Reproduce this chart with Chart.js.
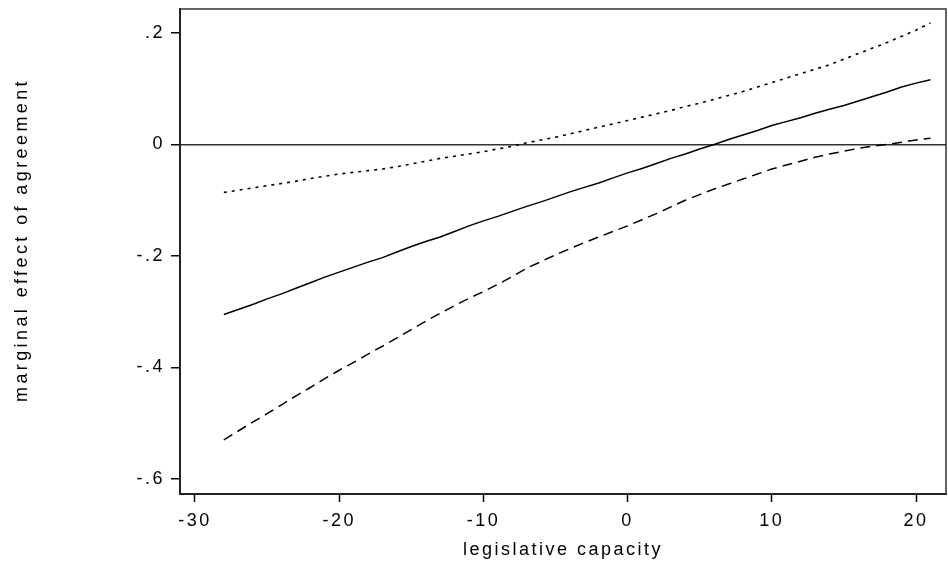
<!DOCTYPE html>
<html>
<head>
<meta charset="utf-8">
<script src="https://cdn.jsdelivr.net/npm/chart.js@4/dist/chart.umd.min.js"></script>
<style>
  body { margin: 0; background: #fff; }
  #wrap { width: 948px; height: 564px; }
</style>
</head>
<body>
<div id="wrap"><canvas id="chart" width="948" height="564"></canvas></div>
<script>
// legislative capacity (x)
const capacity = [-28, -27, -26, -25, -24, -23, -22, -21, -20, -19, -18, -17, -16, -15, -14, -13, -12, -11, -10, -9,
    -8, -7, -6, -5, -4, -3, -2, -1, 0, 1, 2, 3, 4, 5, 6, 7, 8, 9, 10, 11,
    12, 13, 14, 15, 16, 17, 18, 19, 20, 21];

// marginal effect of agreement
const effect = [-0.305, -0.296, -0.287, -0.277, -0.268, -0.258, -0.248, -0.238, -0.229, -0.220,
    -0.211, -0.203, -0.193, -0.183, -0.174, -0.166, -0.156, -0.146, -0.137, -0.129,
    -0.120, -0.111, -0.103, -0.094, -0.085, -0.077, -0.069, -0.060, -0.051, -0.043,
    -0.034, -0.025, -0.017, -0.008, 0.000, 0.009, 0.017, 0.025, 0.034, 0.041,
    0.048, 0.056, 0.063, 0.070, 0.078, 0.086, 0.094, 0.103, 0.110, 0.116];

// upper bound (dotted)
const upper = [-0.086, -0.082, -0.078, -0.074, -0.070, -0.066, -0.061, -0.057, -0.053, -0.050,
    -0.047, -0.044, -0.040, -0.035, -0.030, -0.025, -0.021, -0.017, -0.013, -0.008,
    -0.003, 0.003, 0.008, 0.013, 0.019, 0.025, 0.031, 0.037, 0.043, 0.049,
    0.055, 0.061, 0.068, 0.074, 0.081, 0.088, 0.095, 0.103, 0.111, 0.119,
    0.127, 0.135, 0.143, 0.153, 0.163, 0.173, 0.183, 0.194, 0.205, 0.218];

// lower bound (dashed)
const lower = [-0.530, -0.514, -0.498, -0.483, -0.467, -0.451, -0.436, -0.420, -0.405, -0.391,
    -0.376, -0.362, -0.347, -0.332, -0.317, -0.303, -0.289, -0.276, -0.264, -0.251,
    -0.237, -0.222, -0.210, -0.198, -0.187, -0.176, -0.166, -0.156, -0.146, -0.135,
    -0.124, -0.112, -0.100, -0.090, -0.080, -0.071, -0.062, -0.053, -0.044, -0.037,
    -0.030, -0.023, -0.017, -0.012, -0.007, -0.003, 0.000, 0.004, 0.008, 0.011];

const xTicks = [-30, -20, -10, 0, 10, 20];
const yTicks = [-0.6, -0.4, -0.2, 0, 0.2];
const yTickLabels = ['-.6', '-.4', '-.2', '0', '.2'];
const yTitle = 'marginal effect of agreement';

const toPoints = (ys) => capacity.map((x, i) => ({ x: x, y: ys[i] }));

const fontFamily = '"Liberation Sans", Arial, sans-serif';
const font = { family: fontFamily, size: 18 };

// разреженные буквы как в Stata, рамка и подпись оси Y
const stataLook = {
    id: 'stataLook',
    beforeDraw(chart) {
        chart.ctx.letterSpacing = '2.5px';
    },
    afterDraw(chart) {
        const { ctx, chartArea: a } = chart;
        ctx.save();
        ctx.strokeStyle = '#333';
        ctx.lineWidth = 1.5;
        ctx.beginPath();
        ctx.moveTo(a.left, a.top);
        ctx.lineTo(a.right, a.top);
        ctx.lineTo(a.right, a.bottom);
        ctx.stroke();
        ctx.restore();

        ctx.save();
        ctx.letterSpacing = '3.4px';
        ctx.font = '18px ' + fontFamily;
        ctx.fillStyle = '#000';
        ctx.textAlign = 'center';
        ctx.textBaseline = 'middle';
        ctx.translate(22, 240);
        ctx.rotate(-Math.PI / 2);
        ctx.fillText(yTitle, 0, 0);
        ctx.restore();
    }
};

new Chart(document.getElementById('chart').getContext('2d'), {
    type: 'line',
    data: {
        datasets: [{
            data: toPoints(upper),
            borderColor: '#000',
            borderWidth: 1.6,
            borderDash: [3, 5],
            pointRadius: 0,
            tension: 0
        }, {
            data: toPoints(effect),
            borderColor: '#000',
            borderWidth: 1.5,
            pointRadius: 0,
            tension: 0
        }, {
            data: toPoints(lower),
            borderColor: '#000',
            borderWidth: 1.5,
            borderDash: [10, 6],
            pointRadius: 0,
            tension: 0
        }]
    },
    options: {
        responsive: false,
        animation: false,
        layout: { padding: { top: 9, right: 2, left: 0, bottom: 0 } },
        plugins: {
            legend: { display: false },
            tooltip: { enabled: false }
        },
        scales: {
            x: {
                type: 'linear',
                min: -31.04,
                max: 22.08,
                afterBuildTicks: (s) => { s.ticks = xTicks.map(v => ({ value: v })); },
                afterFit: (s) => { s.height = 70; },
                border: { display: true, color: '#222', width: 2 },
                grid: { drawOnChartArea: false, tickLength: 8, tickColor: '#000', tickWidth: 1.5 },
                ticks: { color: '#000', font: font, padding: 8, maxRotation: 0 },
                title: {
                    display: true,
                    text: 'legislative capacity',
                    color: '#000',
                    font: font,
                    padding: { top: 0, bottom: 3 }
                }
            },
            y: {
                type: 'linear',
                min: -0.627,
                max: 0.243,
                afterBuildTicks: (s) => { s.ticks = yTicks.map(v => ({ value: v })); },
                afterFit: (s) => {
                    s.width = 180;
                    s.paddingTop = 0;
                    s.paddingBottom = 0;
                },
                border: { display: true, color: '#222', width: 2 },
                grid: {
                    drawOnChartArea: true,
                    color: (c) => (c.tick && c.tick.value === 0 ? '#333' : 'rgba(0,0,0,0)'),
                    lineWidth: 1.5,
                    tickLength: 9,
                    tickColor: '#000',
                    tickWidth: 1.5
                },
                ticks: {
                    color: '#000',
                    font: font,
                    padding: 6,
                    callback: (v) => yTickLabels[yTicks.indexOf(v)]
                }
            }
        }
    },
    plugins: [stataLook]
});
</script>
</body>
</html>
